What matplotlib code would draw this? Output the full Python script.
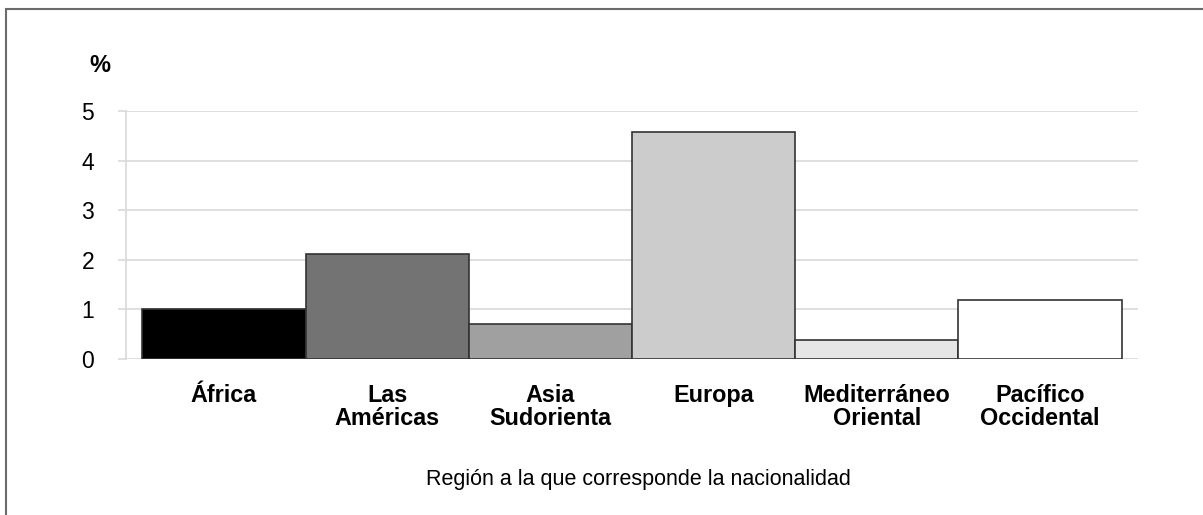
import matplotlib.pyplot as plt
from matplotlib.patches import Rectangle

# -----------------------------
# DATA
# -----------------------------
regions = ["África", "Las\nAméricas", "Asia\nSudorienta", "Europa",
           "Mediterráneo\nOriental", "Pacífico\nOccidental"]
values = [1.0, 2.11, 0.70, 4.57, 0.38, 1.19]
bar_colors = ["#000000", "#737373", "#9fa09f", "#cccccc", "#e6e6e6", "#ffffff"]
y_ticks = [0, 1, 2, 3, 4, 5]

plt.rcParams["font.family"] = ["Liberation Sans", "DejaVu Sans"]

fig = plt.figure(figsize=(12.03, 5.15), dpi=100)
ax = fig.add_axes([126 / 1203, 1 - 359 / 515, (1138 - 126) / 1203, (359 - 111) / 515])

x = list(range(len(regions)))
ax.bar(x, values, width=1.0, color=bar_colors, edgecolor="#333333", linewidth=1.2, zorder=3)

ax.set_xlim(-0.6, len(regions) - 0.4)
ax.set_ylim(0, 5)
ax.set_yticks(y_ticks)
ax.yaxis.grid(True, color="#d9d9d9", linewidth=1.2, zorder=0)

for s in ["top", "right", "bottom"]:
    ax.spines[s].set_visible(False)
ax.spines["left"].set_color("#d9d9d9")
ax.spines["left"].set_linewidth(1.2)

ax.tick_params(axis="y", length=6, width=1.2, color="#d9d9d9", pad=17, labelsize=16.5)
ax.set_xticks(x)
ax.set_xticklabels(regions, fontsize=16.8, fontweight="bold", linespacing=0.98)
ax.tick_params(axis="x", length=0, pad=18)

fig.text(638 / 1203, 1 - 480 / 515, "Región a la que corresponde la nacionalidad",
         fontsize=15.5, ha="center", va="center")
fig.text(100 / 1203, 1 - 66 / 515, "%", fontsize=17, fontweight="bold",
         ha="center", va="center")

# outer frame (only left and top edges fall inside the image)
fig.patches.append(Rectangle((6 / 1203, -0.01), 1.0, 1 - 9 / 515 + 0.01,
                             transform=fig.transFigure, fill=False,
                             edgecolor="#6b6b6b", linewidth=1.5))

fig.savefig("out.png", dpi=100)
